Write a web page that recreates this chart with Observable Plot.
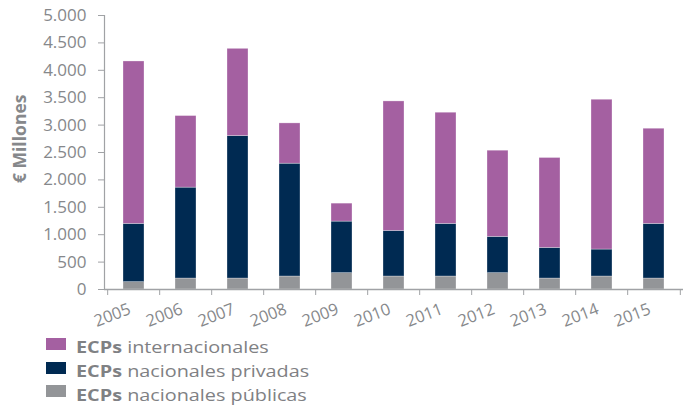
<!DOCTYPE html>
<html><head><meta charset="utf-8">
<script src="https://cdn.jsdelivr.net/npm/d3@7"></script>
<script src="https://cdn.jsdelivr.net/npm/@observablehq/plot@0.6"></script>
<style>
body{margin:0;background:#fff;font-family:"Open Sans",sans-serif;}
#wrap{position:relative;width:693px;height:406px;overflow:hidden;}
#wrap svg{position:absolute;left:0;top:0;}
#legend{position:absolute;left:46px;top:335px;color:#7f8184;font-size:16.5px;}
.row{display:flex;align-items:center;height:23.8px;white-space:nowrap;}
.sw{width:20px;height:12px;margin-right:10px;flex:none;position:relative;top:-3px;}
.lt{display:inline-block;transform:scaleX(1.2);transform-origin:left center;}
.lt b{font-weight:700;}
</style></head><body><div id="wrap"></div>
<script>
const years = ["2005","2006","2007","2008","2009","2010","2011","2012","2013","2014","2015"];
const publicas = [134,200,200,237,298,237,237,298,200,237,200];
const privadas = [1063,1659,2600,2059,941,832,960,662,559,492,997];
const internacionales = [2964,1306,1592,735,328,2363,2029,1573,1641,2734,1737];
const seriesNames = ["ECPs nacionales públicas","ECPs nacionales privadas","ECPs internacionales"];
const seriesColors = ["#939598","#002a52","#a460a1"];
const yTicks = [0,500,1000,1500,2000,2500,3000,3500,4000,4500,5000];
const yLabel = "€ Millones";

const seriesValues = [publicas, privadas, internacionales];
const rows = [];
years.forEach((y, i) => seriesNames.forEach((s, k) => rows.push({year: y, serie: s, value: seriesValues[k][i]})));

const W = 693, H = 334, mL = 104, mR = 10, mT = 15, mB = H - 289;
const step = (W - mL - mR) / years.length;
const textColor = "#86888b";
const axisColor = "#a0a2a5";
const tickFont = "'Liberation Sans Narrow', 'Open Sans', sans-serif";
const fmt = d => d3.format(",")(d).replace(/,/g, ".");

const chart = Plot.plot({
  width: W, height: H,
  marginLeft: mL, marginRight: mR, marginTop: mT, marginBottom: mB,
  style: {fontFamily: "'Open Sans', sans-serif", background: "white", overflow: "visible"},
  x: {domain: years, paddingInner: 0.6, paddingOuter: 0.3, axis: null},
  y: {domain: [0, 5000], axis: null},
  color: {domain: seriesNames, range: seriesColors},
  marks: [
    Plot.barY(rows, {x: "year", y: "value", fill: "serie", order: seriesNames, stroke: "white", strokeOpacity: 0.5, strokeWidth: 0.6}),
    Plot.axisY({ticks: yTicks, tickFormat: fmt, tickSize: 6, tickPadding: 12, fontSize: 17, fontFamily: tickFont, color: textColor, stroke: axisColor, label: null}),
    Plot.frame({anchor: "left", stroke: axisColor, strokeWidth: 1.2}),
    Plot.ruleY([0], {stroke: axisColor, strokeWidth: 1.5}),
    Plot.axisX({tickSize: 6, tickFormat: () => "", dx: -step / 2, stroke: axisColor, label: null}),
    Plot.axisX({ticks: [years[years.length - 1]], tickSize: 6, tickFormat: () => "", dx: step / 2, stroke: axisColor, label: null}),
    Plot.axisX({tickSize: 0, tickPadding: 19, tickRotate: -21, fontSize: 16.5, fontFamily: tickFont, color: textColor, label: null, dx: -4}),
    Plot.text([yLabel], {text: d => d, frameAnchor: "left", textAnchor: "middle", y: 2750, dx: -84, rotate: -90, fontSize: 17.5, fontWeight: "bold", fill: textColor})
  ]
});
const wrap = document.getElementById("wrap");
wrap.appendChild(chart);

const legend = document.createElement("div");
legend.id = "legend";
[2, 1, 0].forEach(k => {
  const row = document.createElement("div");
  row.className = "row";
  const sw = document.createElement("span");
  sw.className = "sw";
  sw.style.background = seriesColors[k];
  row.appendChild(sw);
  const parts = seriesNames[k].split(" ");
  const lt = document.createElement("span");
  lt.className = "lt";
  const b = document.createElement("b");
  b.textContent = parts[0];
  lt.appendChild(b);
  lt.appendChild(document.createTextNode(" " + parts.slice(1).join(" ")));
  row.appendChild(lt);
  legend.appendChild(row);
});
wrap.appendChild(legend);
</script>
</body></html>
